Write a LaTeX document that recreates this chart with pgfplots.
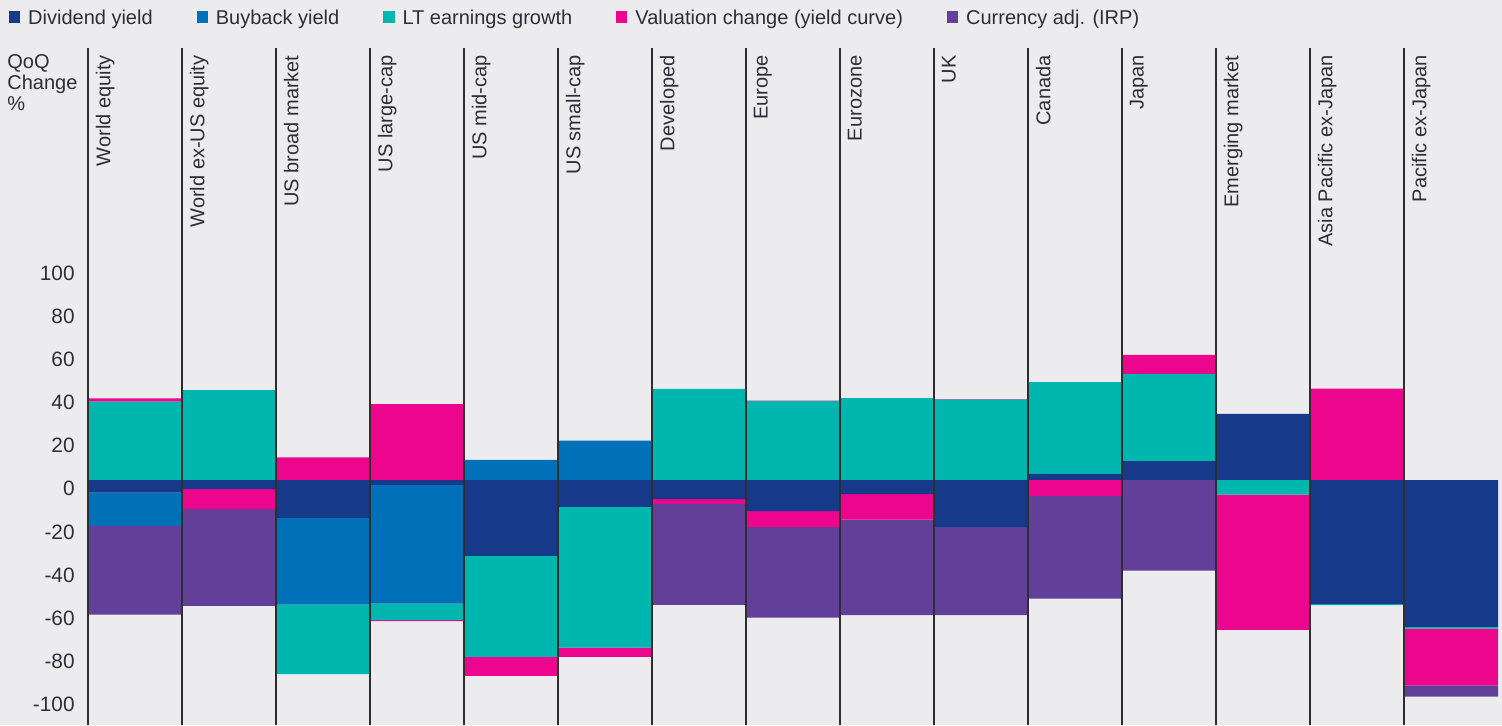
\documentclass[border=0pt]{standalone}
\usepackage{fontspec}
\setmainfont{Liberation Sans}
\usepackage{pgfplots}
\usepackage{pgfplotstable}
\pgfplotsset{compat=1.18}
\definecolor{bg}{HTML}{ECECEF}
\definecolor{dkblue}{HTML}{163989}
\definecolor{mblue}{HTML}{0070B9}
\definecolor{teal}{HTML}{00B7B0}
\definecolor{pink}{HTML}{EC058D}
\definecolor{purp}{HTML}{623F99}
\definecolor{txt}{HTML}{2E2E38}

% positive parts of each bar (stacked upward from the base)
\pgfplotstableread{
x D B L V C
0 0 0 36.3 1.5 0
1 0 0 41.7 0 0
2 0 0 0 10.5 0
3 0 0 0 35.2 0
4 0 9.3 0 0 0
5 0 18.2 0 0 0
6 0 0 42.2 0 0
7 0 0 36.5 0.3 0
8 0 0 38.0 0 0
9 0 0 37.2 0.3 0
10 2.8 0 42.6 0 0
11 8.8 0 40.3 8.9 0
12 30.6 0 0 0 0
13 0 0 0 42.3 0
14 0 0 0 0 0
}\postab

% negative parts of each bar (stacked downward from the base)
\pgfplotstableread{
x D B L V C
0 -5.9 -15.3 0 0 -41.2
1 -4.2 0 0 -9.3 -44.8
2 -17.6 -40.2 -32.1 0 0
3 -2.3 -55.0 -7.6 -0.5 0
4 -35.1 0 -46.9 -8.8 0
5 -12.5 0 -65.2 -4.3 0
6 -8.8 0 0 -2.2 -46.9
7 -14.4 0 0 -7.4 -42.0
8 -6.5 0 0 -11.9 -44.2
9 -21.8 0 0 0 -40.8
10 0 0 0 -7.3 -47.7
11 0 0 0 0 -42.0
12 0 0 -6.8 -62.7 0
13 -57.5 0 -0.5 0 0
14 -68.0 0 -0.9 -26.3 -5.2
}\negtab

\pgfplotsset{
  common/.style={
    width=705pt, height=338.5pt, scale only axis,
    at={(44pt,0pt)}, anchor=south west,
    xmin=-0.5, xmax=14.5, ymin=-113.53, ymax=200.19,
    ybar stacked, bar width=1,
  },
}

\begin{document}
\begin{tikzpicture}
\path[use as bounding box, fill=bg] (0,0) rectangle (751pt,362.5pt);

\begin{axis}[common, hide axis]
\addplot[fill=dkblue, draw=none] table[x=x, y=D] {\postab};
\addplot[fill=mblue, draw=none] table[x=x, y=B] {\postab};
\addplot[fill=teal, draw=none] table[x=x, y=L] {\postab};
\addplot[fill=pink, draw=none] table[x=x, y=V] {\postab};
\addplot[fill=purp, draw=none] table[x=x, y=C] {\postab};
\end{axis}

\begin{axis}[common, axis on top,
  axis line style={draw=none},
  major tick length=0pt,
  ytick={-103.9,-83.93,-63.96,-43.99,-24.02,-4.05,15.92,35.89,55.86,75.83,95.8},
  yticklabels={-100,-80,-60,-40,-20,0,20,40,60,80,100},
  yticklabel style={font=\fontsize{10.4}{12}\selectfont, text=txt, anchor=east, inner sep=0pt, xshift=-6.5pt},
  xtick={0,...,14},
  xticklabels={World equity, World ex-US equity, US broad market, US large-cap, US mid-cap, US small-cap, Developed, Europe, Eurozone, UK, Canada, Japan, Emerging market, Asia Pacific ex-Japan, Pacific ex-Japan},
  xticklabel pos=upper,
  xticklabel style={xshift=-19.75pt, yshift=-3.5pt, rotate=90, anchor=north east, inner sep=0pt, font=\fontsize{10}{12}\selectfont, text=txt},
  extra x ticks={-0.5,0.5,...,13.5},
  extra x tick labels={},
  extra x tick style={grid=major, major grid style={draw=black!82, line width=0.75pt}},
  ylabel={QoQ\\Change\\\%},
  every axis y label/.style={at={(axis description cs:-0.05745,0.9905)}, anchor=north west, align=left, inner sep=0pt, font=\fontsize{10}{10.5}\selectfont, text=txt},
  legend columns=-1,
  legend style={at={(axis description cs:-0.05603,1.0425)}, anchor=west, draw=none, fill=none, inner sep=0pt, outer sep=0pt,
    font=\fontsize{10}{12}\selectfont, text=txt, nodes={inner sep=0pt, text height=7.3pt, text depth=2.1pt},
    /tikz/every odd column/.append style={column sep=4pt},
    /tikz/every even column/.append style={column sep=22pt}},
  legend image code/.code={\fill[#1, draw=none] (0pt,-1.7pt) rectangle (5.6pt,3.9pt);},
]
\addplot[fill=dkblue, draw=none] table[x=x, y=D] {\negtab};
\addlegendentry{Dividend yield}
\addplot[fill=mblue, draw=none] table[x=x, y=B] {\negtab};
\addlegendentry{Buyback yield}
\addplot[fill=teal, draw=none] table[x=x, y=L] {\negtab};
\addlegendentry{LT earnings growth}
\addplot[fill=pink, draw=none] table[x=x, y=V] {\negtab};
\addlegendentry{Valuation change (yield curve)}
\addplot[fill=purp, draw=none] table[x=x, y=C] {\negtab};
\addlegendentry{Currency adj. (IRP)}
\end{axis}
\end{tikzpicture}
\end{document}
